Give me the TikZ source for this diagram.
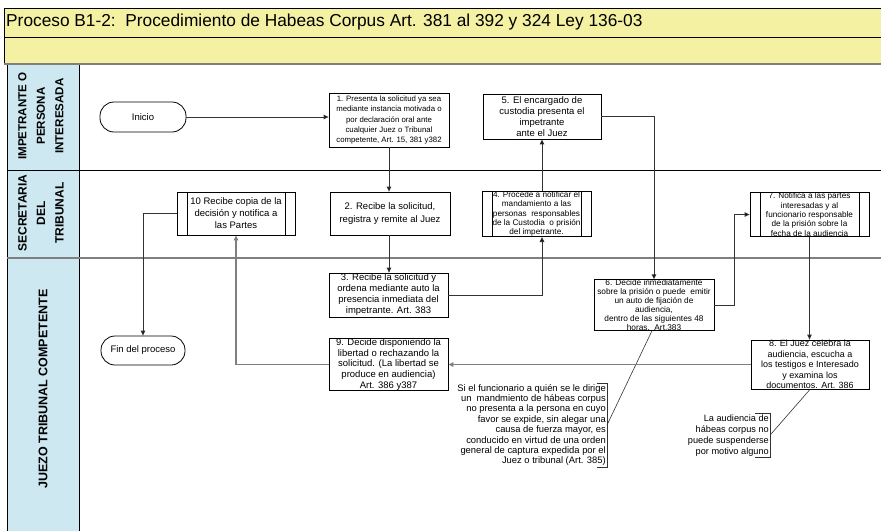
\documentclass[tikz,border=0pt]{standalone}
\usepackage{fontspec}
\setmainfont{Liberation Sans}
\usetikzlibrary{arrows.meta}
\newcommand\fsz[2]{\fontsize{#1}{#2}\selectfont}
\definecolor{bandyellow}{HTML}{F5F1A3}
\definecolor{lanecol}{HTML}{CDE8F1}
\definecolor{rulegray}{HTML}{7F7F7F}
\definecolor{linkdark}{HTML}{333333}
\begin{document}
\begin{tikzpicture}[x=1pt,y=-1pt,
  box/.style={draw, line width=0.8pt, fill=white, inner sep=0pt, align=center},
  subproc/.style={box, path picture={
      \draw[line width=0.8pt] ([xshift=10pt]path picture bounding box.north west) -- ([xshift=10pt]path picture bounding box.south west);
      \draw[line width=0.8pt] ([xshift=-10pt]path picture bounding box.north east) -- ([xshift=-10pt]path picture bounding box.south east);}},
  term/.style={draw, line width=0.8pt, fill=white, rounded corners=14pt, inner sep=0pt, align=center, font=\fsz{9.5}{11}},
  arr/.style={line width=0.9pt, draw=linkdark, -{Triangle[length=5pt,width=4.5pt,fill=black]}},
  arrgray/.style={line width=1.3pt, draw=rulegray, -{Triangle[length=5pt,width=4.5pt,fill=black]}},
  note/.style={align=right, inner sep=1pt, font=\fsz{9.4}{10.4}},
  notelink/.style={line width=0.6pt, draw=linkdark},
  lanelbl/.style={rotate=90, align=center, font=\bfseries\fsz{12.5}{18.5}}
]
\useasboundingbox (0,0) rectangle (881,531);

% header bands
\fill[bandyellow] (4,8) rectangle (881,64);
\draw[line width=0.8pt] (881,8) -- (4,8) -- (4,64);
\draw[line width=0.8pt] (4,37) -- (881,37);
\node[anchor=west, inner sep=0pt, font=\fsz{17.3}{20}] (title) at (6,22)
  {Proceso B1-2:\ \ Procedimiento de Habeas Corpus Art. 381 al 392 y 324 Ley 136-03};

% swimlanes
\fill[lanecol] (7,64) rectangle (79,531);
\draw[line width=0.8pt] (7,531) -- (7,64);
\draw[line width=0.8pt] (79,64) -- (79,531);
\draw[rulegray, line width=1.6pt] (4,64) -- (881,64);
\draw[line width=0.8pt] (7,170) -- (881,170);
\draw[rulegray, line width=1.6pt] (7,258) -- (881,258);

\node[lanelbl, font=\bfseries\fsz{11.6}{18.5}] (lane1) at (41,116) {IMPETRANTE O\\PERSONA\\INTERESADA};
\node[lanelbl, font=\bfseries\fsz{12}{18.5}] (lane2) at (41,213) {SECRETARIA\\DEL\\TRIBUNAL};
\node[lanelbl] (lane3) at (43,389) {JUEZO TRIBUNAL COMPETENTE};

% process steps
\node[term, minimum width=86pt, minimum height=30pt] (ini) at (143,117) {Inicio};
\node[term, minimum width=84pt, minimum height=29pt] (fin) at (143,350.5) {Fin del proceso};

\node[box, minimum width=120pt, minimum height=54pt, font=\fsz{7.8}{10.4}] (b1) at (389,120)
  {1. Presenta la solicitud ya sea\\mediante instancia motivada o\\por declaración oral ante\\cualquier Juez o Tribunal\\competente, Art. 15, 381 y382};
\node[box, minimum width=120pt, minimum height=43pt, font=\fsz{9.5}{12.5}] (b2) at (390,213.5)
  {2. Recibe la solicitud,\\registra y remite al Juez};
\node[box, minimum width=119pt, minimum height=44pt, font=\fsz{9.5}{11}] (b3) at (388.5,295)
  {3. Recibe la solicitud y\\ordena mediante auto la\\presencia inmediata del\\impetrante. Art. 383};
\node[subproc, minimum width=109pt, minimum height=44pt, font=\fsz{8.2}{9.4}] (b4) at (536.5,214)
  {4. Procede a notificar el\\mandamiento a las\\personas\ \ responsables\\de la Custodia\ \ o prisión\\del impetrante.};
\node[box, minimum width=118pt, minimum height=45pt, font=\fsz{9.5}{11}] (b5) at (542,116.5)
  {5. El encargado de\\custodia presenta el\\impetrante\\ante el Juez};
\node[box, minimum width=120pt, minimum height=48pt, font=\fsz{8.3}{8.9}] (b6) at (654,305)
  {6. Decide inmediatamente\\sobre la prisión o puede\ \ emitir\\un auto de fijación de\\audiencia,\\dentro de las siguientes 48\\horas.\ \ Art.383};
\node[subproc, minimum width=119pt, minimum height=43pt, font=\fsz{8.2}{9.4}] (b7) at (809.5,214.5)
  {7. Notifica a las partes\\interesadas y al\\funcionario responsable\\de la prisión sobre la\\fecha de la audiencia};
\node[box, minimum width=118pt, minimum height=47pt, font=\fsz{9}{10.6}] (b8) at (810,364.5)
  {8. El Juez celebra la\\audiencia, escucha a\\los testigos e Interesado\\y examina los\\documentos. Art. 386};
\node[box, minimum width=119pt, minimum height=49pt, font=\fsz{9.5}{10.6}] (b9) at (388.5,364.5)
  {9. Decide disponiendo la\\libertad o rechazando la\\solicitud. (La libertad se\\produce en audiencia)\\Art. 386 y387};
\node[subproc, minimum width=118pt, minimum height=43pt, font=\fsz{9.5}{12}] (b10) at (236,213.5)
  {10 Recibe copia de la\\decisión y notifica a\\las Partes};

% annotations
\node[note, anchor=north east, minimum height=83pt] (n1) at (607,383)
  {Si el funcionario a quién se le dirige\\un\ \ mandmiento de hábeas corpus\\no presenta a la persona en cuyo\\favor se expide, sin alegar una\\causa de fuerza mayor, es\\conducido en virtud de una orden\\general de captura expedida por el\\Juez o tribunal (Art. 385)};
\node[note, anchor=north east, minimum height=44pt, font=\fsz{9.2}{11}] (n2) at (770,413)
  {La audiencia de\\hábeas corpus no\\puede suspenderse\\por motivo alguno};
\draw[notelink] ([xshift=-10pt]n1.north east) -- (n1.north east) -- (n1.south east) -- ([xshift=-10pt]n1.south east);
\draw[notelink] ([xshift=-15pt]n2.north east) -- (n2.north east) -- (n2.south east) -- ([xshift=-15pt]n2.south east);
\draw[notelink] (n1.east) -- ([xshift=-2pt]b6.south);
\draw[notelink] (n2.east) -- (b8.south);

% flow
\draw[arr] (ini.east) -- (ini.east -| b1.west);
\draw[arr] (b1.south) -- (b1.south |- b2.north);
\draw[arr] (b2.south -| b1) -- (b3.north -| b1);
\draw[arr] (b3.east) -| (b4.south -| b5);
\draw[arr] (b4.north -| b5) -- (b5.south);
\draw[arr] (b5.east) -| (b6.north);
\draw[arr] (b6.east) -- ++(20,0) |- (b7.west);
\draw[arr] (b7.south) -- (b7.south |- b8.north);
\draw[arrgray] (b8.west) -- (b9.east);
\draw[arrgray] (b9.west) -| (b10.south);
\draw[arr] (b10.west) -| (fin.north);
\end{tikzpicture}
\end{document}
